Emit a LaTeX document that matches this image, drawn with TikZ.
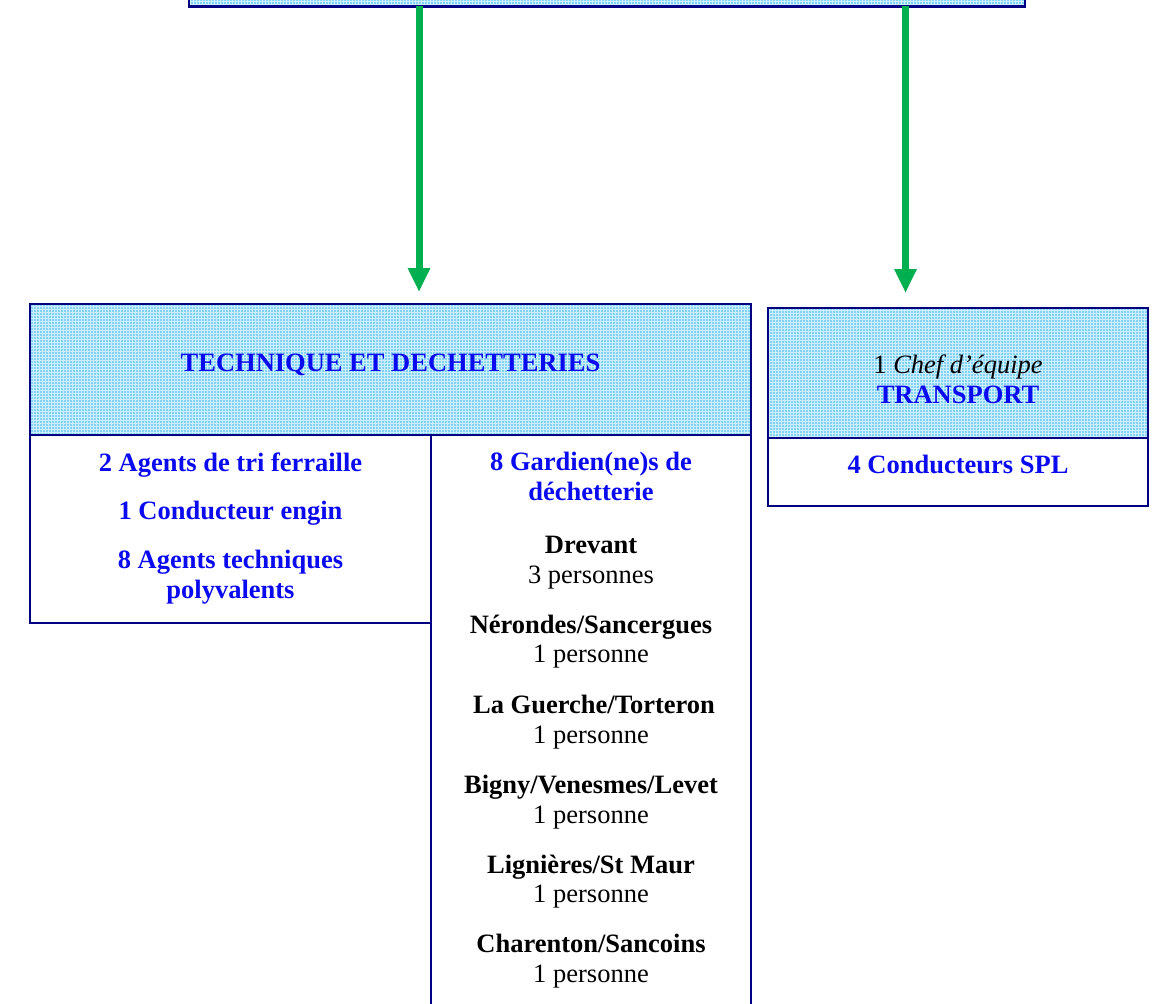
\documentclass[tikz,border=0pt]{standalone}
\usepackage{fontspec}
\setmainfont{Liberation Serif}
\usetikzlibrary{arrows.meta}
\definecolor{navy}{RGB}{0,0,128}
\definecolor{tblue}{RGB}{10,10,240}
\definecolor{agreen}{RGB}{0,176,80}
\definecolor{gridfill}{RGB}{130,210,245}
\definecolor{gridline}{RGB}{205,238,252}
\begin{document}
\begin{tikzpicture}[x=1pt,y=-1pt,
  box/.style={draw=navy,line width=2.4pt,inner sep=0pt,outer sep=0pt,anchor=north west},
  hdr/.style={box,fill=gridfill,
    path picture={\draw[gridline,line width=1pt,step=3pt]
      (path picture bounding box.south west) grid (path picture bounding box.north east);}},
  bt/.style={font=\fontsize{26.5}{30}\selectfont\bfseries,text=tblue,anchor=base,inner sep=0pt},
  nt/.style={font=\fontsize{26.5}{30}\selectfont\bfseries,text=black,anchor=base,inner sep=0pt},
  pt/.style={font=\fontsize{26.5}{30}\selectfont,text=black,anchor=base,inner sep=0pt},
  arr/.style={draw=agreen,line width=7pt,-{Triangle[length=24pt,width=21pt]}}]
\clip (0,0) rectangle (1158,1003);
% boxes
\node[hdr,minimum width=836pt,minimum height=46.5pt] (top) at (189,-40) {};
\node[hdr,minimum width=721pt,minimum height=131pt] (thdrbox) at (30,304) {};
\node[box,minimum width=401pt,minimum height=188pt] (lbox) at (30,435) {};
\node[box,minimum width=320pt,minimum height=620pt] (rbox) at (431,435) {};
\node[hdr,minimum width=380pt,minimum height=130pt] (trbox) at (768,308) {};
\node[box,minimum width=380pt,minimum height=68pt] (tlbox) at (768,438) {};
% arrows
\coordinate (t1) at (419,6.5);
\coordinate (t2) at (905.5,6.5);
\draw[arr,shorten >=12pt] (t1) -- (t1 |- thdrbox.north);
\draw[arr,shorten >=15pt] (t2) -- (t2 |- trbox.north);
% header texts
\node[bt] (thdr) at (390.5,371) {TECHNIQUE ET DECHETTERIES};
\node[pt] (chef) at (958,373) {1 \textit{Chef d’équipe}};
\node[bt] (transp) at (958,403) {TRANSPORT};
\node[bt] (spl) at (958,473) {4 Conducteurs SPL};
% left list
\node[bt] (l1) at (230.5,471) {2 Agents de tri ferraille};
\node[bt] (l2) at (230.5,519) {1 Conducteur engin};
\node[bt] (l3) at (230.5,568) {8 Agents techniques};
\node[bt] (l4) at (230.5,598) {polyvalents};
% right column
\node[bt] (g1) at (591,470) {8 Gardien(ne)s de};
\node[bt] (g2) at (591,500) {déchetterie};
\node[nt] (s1) at (591,553) {Drevant};
\node[pt] (p1) at (591,583) {3 personnes};
\node[nt] (s2) at (591,633) {Nérondes/Sancergues};
\node[pt] (p2) at (591,662) {1 personne};
\node[nt] (s3) at (594,713) {La Guerche/Torteron};
\node[pt] (p3) at (591,743) {1 personne};
\node[nt] (s4) at (591,793) {Bigny/Venesmes/Levet};
\node[pt] (p4) at (591,823) {1 personne};
\node[nt] (s5) at (591,873) {Lignières/St Maur};
\node[pt] (p5) at (591,902) {1 personne};
\node[nt] (s6) at (591,952) {Charenton/Sancoins};
\node[pt] (p6) at (591,982) {1 personne};
\end{tikzpicture}
\end{document}
